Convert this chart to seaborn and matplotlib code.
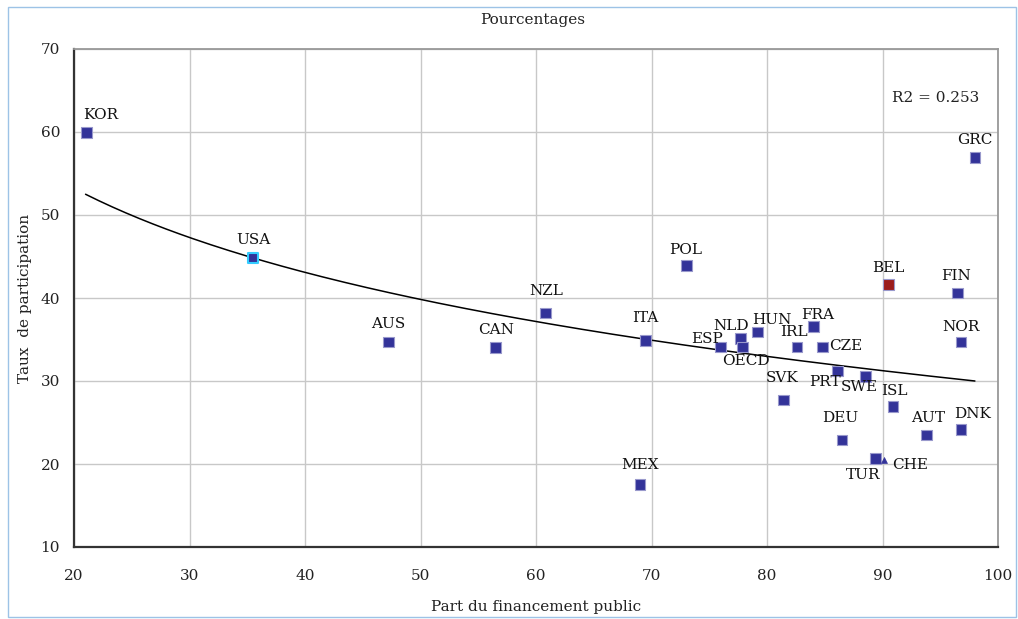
import numpy as np
import pandas as pd
import matplotlib
matplotlib.use("Agg")
import matplotlib.pyplot as plt
import seaborn as sns
from matplotlib.patches import Rectangle

# ---- data ----
countries = ["KOR", "USA", "AUS", "CAN", "NZL", "ITA", "MEX", "POL", "ESP", "NLD",
             "OECD", "HUN", "IRL", "FRA", "CZE", "SVK", "PRT", "SWE", "DEU", "TUR",
             "CHE", "ISL", "AUT", "DNK", "NOR", "FIN", "BEL", "GRC"]
public_share = [21.1, 35.5, 47.2, 56.5, 60.8, 69.5, 69.0, 73.0, 76.0, 77.7,
                77.9, 79.2, 82.6, 84.0, 84.8, 81.4, 86.1, 88.5, 86.5, 89.4,
                90.1, 90.9, 93.8, 96.8, 96.8, 96.5, 90.5, 98.0]
participation = [59.9, 44.8, 34.7, 34.0, 38.2, 34.9, 17.5, 43.9, 34.1, 35.1,
                 34.1, 35.9, 34.1, 36.6, 34.1, 27.7, 31.2, 30.5, 22.9, 20.7,
                 20.5, 26.9, 23.5, 24.2, 34.7, 40.6, 41.6, 56.9]
x_ticks = [20, 30, 40, 50, 60, 70, 80, 90, 100]
y_ticks = [10, 20, 30, 40, 50, 60, 70]
r2_text = "R2 = 0.253"
# logarithmic trend line as drawn (y = a + b ln x), endpoints of the chart's curve
trend_x_range = [21.0, 98.0]
trend_y_ends = [52.5, 30.0]

# label offsets in points (layout only)
label_offsets = {
    "KOR": (10, 13), "USA": (0, 13), "AUS": (0, 13), "CAN": (0, 13), "NZL": (1, 16),
    "ITA": (0, 16), "MEX": (0, 14), "POL": (0, 11), "ESP": (-10, 6), "NLD": (-7, 9),
    "OECD": (2, -10), "HUN": (10, 9), "IRL": (-2, 11), "FRA": (3, 8), "CZE": (17, 1),
    "SVK": (-1, 16), "PRT": (-9, -8), "SWE": (-4, -7), "DEU": (-1, 16), "TUR": (-9, -12),
    "CHE": (19, -4), "ISL": (1, 11), "AUT": (1, 12), "DNK": (8, 11), "NOR": (0, 11),
    "FIN": (-1, 12), "BEL": (0, 12), "GRC": (0, 13),
}

df = pd.DataFrame({"country": countries, "x": public_share, "y": participation})

def group(c):
    if c in ("BEL", "USA", "CHE"):
        return c
    return "other"
df["grp"] = df["country"].map(group)

sns.set_theme(style="white")
plt.rcParams["font.family"] = ["DejaVu Serif"]

FS = 11
fig = plt.figure(figsize=(10.18, 6.19), dpi=100)
ax = fig.add_axes([74/1018, 1-547/619, (998-74)/1018, (547-49)/619])

navy = "#333399"
palette = {"other": navy, "BEL": "#9B1C1C"}
sub = df[df.grp.isin(["other", "BEL"])]
sns.scatterplot(data=sub, x="x", y="y", hue="grp", palette=palette, marker="s",
                s=60, edgecolor="#9999cc", linewidth=0.8, legend=False, ax=ax, zorder=3)
usa = df[df.grp == "USA"]
sns.scatterplot(data=usa, x="x", y="y", color=navy, marker="s", s=60,
                edgecolor="#33ccff", linewidth=1.5, legend=False, ax=ax, zorder=3)
che = df[df.grp == "CHE"]
sns.scatterplot(data=che, x="x", y="y", color=navy, marker="^", s=18,
                edgecolor=navy, linewidth=0.5, legend=False, ax=ax, zorder=3)

# trend line (logarithmic)
b = (trend_y_ends[1] - trend_y_ends[0]) / np.log(trend_x_range[1] / trend_x_range[0])
a = trend_y_ends[0] - b * np.log(trend_x_range[0])
tx = np.linspace(trend_x_range[0], trend_x_range[1], 200)
sns.lineplot(x=tx, y=a + b * np.log(tx), color="black", linewidth=1.1, ax=ax, zorder=2)

for c, xv, yv in zip(countries, public_share, participation):
    dx, dy = label_offsets[c]
    ax.annotate(c, (xv, yv), xytext=(dx, dy), textcoords="offset points",
                ha="center", va="center", fontsize=FS, color="#111111", zorder=4)

ax.set_xlim(20, 100)
ax.set_ylim(10, 70)
ax.set_xticks(x_ticks)
ax.set_yticks(y_ticks)
ax.grid(True, color="#c8c8c8", linewidth=1.0)
ax.set_axisbelow(True)
for s in ["left", "bottom"]:
    ax.spines[s].set_color("#333333")
    ax.spines[s].set_linewidth(1.6)
for s in ["top", "right"]:
    ax.spines[s].set_color("#999999")
    ax.spines[s].set_linewidth(1.3)
ax.tick_params(axis="both", labelsize=FS, colors="#222222", length=0)
ax.tick_params(axis="y", pad=10)
ax.tick_params(axis="x", pad=16)
ax.set_xlabel("Part du financement public", fontsize=FS, labelpad=12, color="#222222")
ax.set_ylabel("Taux  de participation", fontsize=FS, labelpad=6, color="#222222")

fig.text(533/1018, 1-20/619, "Pourcentages", ha="center", va="center", fontsize=FS, color="#222222")
fig.text(892/1018, 1-98/619, r2_text, ha="left", va="center", fontsize=FS, color="#222222")

fig.patches.append(Rectangle((8/1018, 2/619), 1008/1018, 610/619, transform=fig.transFigure,
                             fill=False, edgecolor="#9dc3e6", linewidth=1.0))

fig.savefig("out.png", dpi=100)
